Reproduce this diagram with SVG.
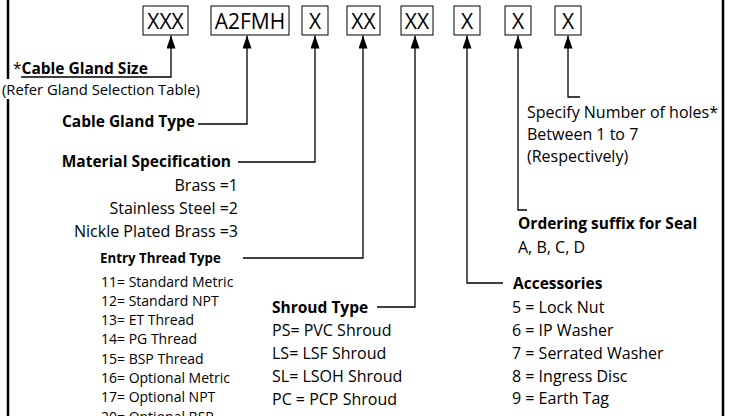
<svg xmlns="http://www.w3.org/2000/svg" width="731" height="416" viewBox="0 0 731 416">
<style>
text{font-family:"Open Sans","Liberation Sans",sans-serif;fill:#000}
.m{font-size:16px}
.b{font-size:15.5px;font-weight:bold}
.s{font-size:14px}
.r{font-size:14.8px}
.sb{font-size:13.3px;font-weight:bold}
.box rect{fill:#fff;stroke:#000;stroke-width:1}
.box text{font-size:21px;text-anchor:middle}
.conn path{fill:none;stroke:#000;stroke-width:1.3}
.frame{stroke:#000;stroke-width:2.5;fill:none}
</style>
<defs>
<marker id="ah" viewBox="0 0 13 9" refX="13" refY="4.5" markerWidth="13" markerHeight="9" markerUnits="userSpaceOnUse" orient="auto">
<path d="M0,0 L13,4.5 L0,9 z" fill="#000"/>
</marker>
</defs>
<rect width="731" height="416" fill="#fff"/>
<g id="frame">
<path class="frame" d="M8,0 V79 M8,99 V416 M723,0 V416"/>
</g>
<g id="connectors" class="conn">
<path d="M21,77 H171 V35.5" marker-end="url(#ah)"/>
<path d="M198,124 H247 V35.5" marker-end="url(#ah)"/>
<path d="M238,162 H315 V35.5" marker-end="url(#ah)"/>
<path d="M243,258 H363 V35.5" marker-end="url(#ah)"/>
<path d="M377,307 H415 V35.5" marker-end="url(#ah)"/>
<path d="M503,283 H467 V35.5" marker-end="url(#ah)"/>
<path d="M527,210 H518 V35.5" marker-end="url(#ah)"/>
<path d="M580,97 H568 V35.5" marker-end="url(#ah)"/>
</g>
<g id="box-size" class="box"><rect x="143" y="6" width="45" height="29"/><text x="165.5" y="28.5">XXX</text></g>
<g id="box-type" class="box"><rect x="211" y="6" width="78" height="29"/><text x="250" y="28.5">A2FMH</text></g>
<g id="box-material" class="box"><rect x="302" y="6" width="26" height="29"/><text x="315" y="28.5">X</text></g>
<g id="box-thread" class="box"><rect x="347" y="6" width="33" height="29"/><text x="363.5" y="28.5">XX</text></g>
<g id="box-shroud" class="box"><rect x="401" y="6" width="32" height="29"/><text x="417" y="28.5">XX</text></g>
<g id="box-accessories" class="box"><rect x="454" y="6" width="26" height="29"/><text x="467" y="28.5">X</text></g>
<g id="box-seal" class="box"><rect x="505" y="6" width="26" height="29"/><text x="518" y="28.5">X</text></g>
<g id="box-holes" class="box"><rect x="555" y="6" width="26" height="29"/><text x="568" y="28.5">X</text></g>
<g id="label-size">
<text x="13" y="74" class="b"><tspan font-weight="normal">*</tspan>Cable Gland Size</text>
<text x="2" y="95" class="r">(Refer Gland Selection Table)</text>
</g>
<g id="label-type">
<text x="195" y="127" class="b" text-anchor="end" font-size="16.3">Cable Gland Type</text>
</g>
<g id="label-material" text-anchor="end">
<text x="231" y="167" class="b">Material Specification</text>
<text x="238" y="191" class="m">Brass =1</text>
<text x="238" y="214" class="m">Stainless Steel =2</text>
<text x="238" y="237" class="m">Nickle Plated Brass =3</text>
</g>
<g id="label-thread">
<text x="100" y="263" class="sb">Entry Thread Type</text>
<text x="101" y="286.5" class="s">11= Standard Metric</text>
<text x="101" y="305.8" class="s">12= Standard NPT</text>
<text x="101" y="325.1" class="s">13= ET Thread</text>
<text x="101" y="344.4" class="s">14= PG Thread</text>
<text x="101" y="363.7" class="s">15= BSP Thread</text>
<text x="101" y="383" class="s">16= Optional Metric</text>
<text x="101" y="402.3" class="s">17= Optional NPT</text>
<text x="101" y="421.6" class="s">20= Optional BSP</text>
</g>
<g id="label-shroud">
<text x="272" y="312.5" class="b">Shroud Type</text>
<text x="272" y="335.5" class="m">PS= PVC Shroud</text>
<text x="272" y="358.5" class="m">LS= LSF Shroud</text>
<text x="272" y="381.5" class="m">SL= LSOH Shroud</text>
<text x="272" y="404.5" class="m">PC = PCP Shroud</text>
</g>
<g id="label-accessories">
<text x="513" y="288.5" class="b">Accessories</text>
<text x="512" y="312.5" class="m">5 = Lock Nut</text>
<text x="512" y="335.5" class="m">6 = IP Washer</text>
<text x="512" y="358.5" class="m">7 = Serrated Washer</text>
<text x="512" y="381.5" class="m">8 = Ingress Disc</text>
<text x="512" y="403.5" class="m">9 = Earth Tag</text>
</g>
<g id="label-seal">
<text x="518" y="228.5" class="b">Ordering suffix for Seal</text>
<text x="518" y="252.5" class="m">A, B, C, D</text>
</g>
<g id="label-holes">
<text x="527" y="117.5" class="m">Specify Number of holes*</text>
<text x="527" y="139.5" class="m">Between 1 to 7</text>
<text x="527" y="161.5" class="m">(Respectively)</text>
</g>
</svg>
